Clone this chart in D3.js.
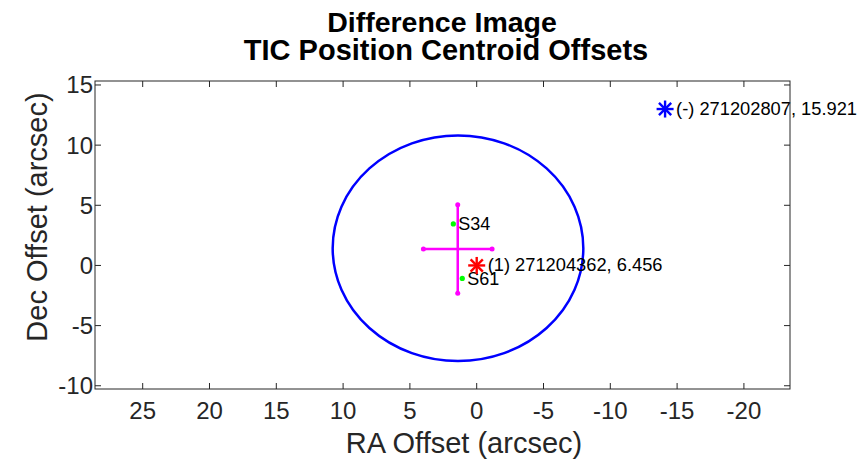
<!DOCTYPE html>
<html><head><meta charset="utf-8">
<script src="https://cdn.jsdelivr.net/npm/d3@7"></script>
<style>body{margin:0;background:#fff}svg{display:block;font-family:"Liberation Sans",Arial,sans-serif}</style>
</head><body><svg id="c" width="862" height="459"></svg>
<script>
const raTicks = [25, 20, 15, 10, 5, 0, -5, -10, -15, -20];
const decTicks = [15, 10, 5, 0, -5, -10];
const sectorNames = ["S34", "S61"];
const sectorRA = [1.75, 1.08];
const sectorDec = [3.45, -1.08];
const meanRA = [1.42];
const meanDec = [1.37];
const errRA = [2.57];
const errDec = [3.68];
const circleRA = [1.40];
const circleDec = [1.43];
const circleR = [9.38];
const starLabels = ["(1) 271204362, 6.456", "(-) 271202807, 15.921"];
const starRA = [0, -14.1];
const starDec = [0, 13.0];
const starColors = ["#ff0000", "#0000ff"];

const svg = d3.select("#c");
const L = 95, R = 790, T = 81, B = 389;
const x = d3.scaleLinear().domain([28.57, -23.45]).range([L, R]);
const y = d3.scaleLinear().domain([-10.27, 15.33]).range([B, T]);
const axisCol = "#262626";

// circle
svg.append("ellipse")
  .attr("cx", x(circleRA[0])).attr("cy", y(circleDec[0]))
  .attr("rx", Math.abs(x(circleRA[0] + circleR[0]) - x(circleRA[0])))
  .attr("ry", Math.abs(y(circleDec[0] + circleR[0]) - y(circleDec[0])))
  .attr("fill", "none").attr("stroke", "#0000ff").attr("stroke-width", 2.5);

// error cross
const g = svg.append("g");
g.append("line").attr("x1", x(meanRA[0] + errRA[0])).attr("x2", x(meanRA[0] - errRA[0]))
  .attr("y1", y(meanDec[0])).attr("y2", y(meanDec[0]))
  .attr("stroke", "#ff00ff").attr("stroke-width", 2.5);
g.append("line").attr("x1", x(meanRA[0])).attr("x2", x(meanRA[0]))
  .attr("y1", y(meanDec[0] + errDec[0])).attr("y2", y(meanDec[0] - errDec[0]))
  .attr("stroke", "#ff00ff").attr("stroke-width", 2.5);
const ends = [[meanRA[0] + errRA[0], meanDec[0]], [meanRA[0] - errRA[0], meanDec[0]],
              [meanRA[0], meanDec[0] + errDec[0]], [meanRA[0], meanDec[0] - errDec[0]]];
g.selectAll("circle.end").data(ends).enter().append("circle")
  .attr("cx", d => x(d[0])).attr("cy", d => y(d[1])).attr("r", 2.5).attr("fill", "#ff00ff");

// sectors
sectorNames.forEach((n, i) => {
  svg.append("circle").attr("cx", x(sectorRA[i])).attr("cy", y(sectorDec[i])).attr("r", 2.6).attr("fill", "#00ff00");
  svg.append("text").attr("x", x(sectorRA[i]) + 5).attr("y", y(sectorDec[i]) + 6.5)
    .attr("font-size", 18).attr("fill", "#000").text(n);
});

// stars
starLabels.forEach((lab, i) => {
  const cx = x(starRA[i]), cy = y(starDec[i]), s = 8.5, d = s * 0.72;
  const sg = svg.append("g").attr("stroke", starColors[i]).attr("stroke-width", 2.4);
  sg.append("line").attr("x1", cx - s).attr("x2", cx + s).attr("y1", cy).attr("y2", cy);
  sg.append("line").attr("x1", cx).attr("x2", cx).attr("y1", cy - s).attr("y2", cy + s);
  sg.append("line").attr("x1", cx - d).attr("x2", cx + d).attr("y1", cy - d).attr("y2", cy + d);
  sg.append("line").attr("x1", cx - d).attr("x2", cx + d).attr("y1", cy + d).attr("y2", cy - d);
  svg.append("text").attr("x", cx + 11).attr("y", cy + 6)
    .attr("font-size", 18.3).attr("fill", "#000").text(lab);
});

// frame & ticks
const tl = 6;
const fr = svg.append("g").attr("stroke", axisCol).attr("stroke-width", 1).attr("fill", "none");
fr.append("rect").attr("x", L).attr("y", T).attr("width", R - L).attr("height", B - T);
raTicks.forEach(t => {
  fr.append("line").attr("x1", x(t)).attr("x2", x(t)).attr("y1", B).attr("y2", B - tl);
  fr.append("line").attr("x1", x(t)).attr("x2", x(t)).attr("y1", T).attr("y2", T + tl);
});
decTicks.forEach(t => {
  fr.append("line").attr("x1", L).attr("x2", L + tl).attr("y1", y(t)).attr("y2", y(t));
  fr.append("line").attr("x1", R).attr("x2", R - tl).attr("y1", y(t)).attr("y2", y(t));
});
svg.selectAll("text.xt").data(raTicks).enter().append("text")
  .attr("x", d => x(d)).attr("y", 419).attr("text-anchor", "middle")
  .attr("font-size", 24).attr("fill", axisCol).text(d => d);
svg.selectAll("text.yt").data(decTicks).enter().append("text")
  .attr("x", L - 2).attr("y", d => y(d) + 8.5).attr("text-anchor", "end")
  .attr("font-size", 24).attr("fill", axisCol).text(d => d);

// labels
svg.append("text").attr("x", 464).attr("y", 453).attr("text-anchor", "middle")
  .attr("font-size", 29).attr("fill", axisCol).text("RA Offset (arcsec)");
svg.append("text").attr("transform", "translate(46.5,217) rotate(-90)").attr("text-anchor", "middle")
  .attr("font-size", 29).attr("fill", axisCol).text("Dec Offset (arcsec)");
svg.append("text").attr("x", 442).attr("y", 32).attr("text-anchor", "middle")
  .attr("font-size", 28.5).attr("font-weight", "bold").attr("fill", "#000").text("Difference Image");
svg.append("text").attr("x", 446).attr("y", 60).attr("text-anchor", "middle")
  .attr("font-size", 29).attr("font-weight", "bold").attr("fill", "#000").text("TIC Position Centroid Offsets");
</script></body></html>
